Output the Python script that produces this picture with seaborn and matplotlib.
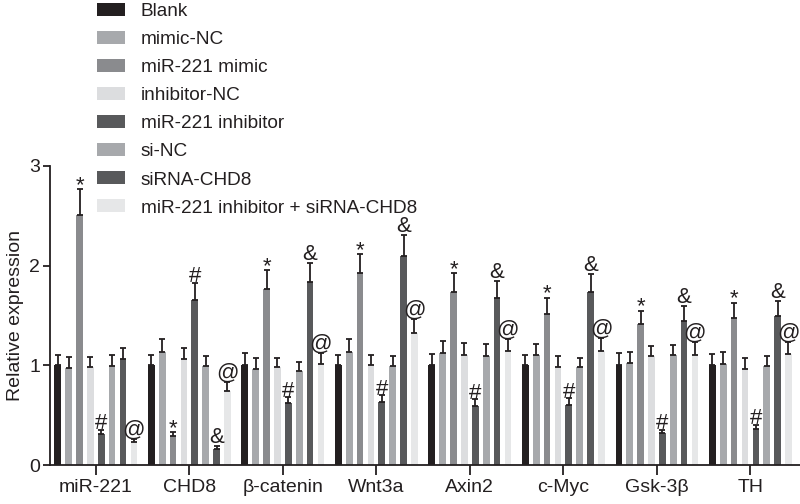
import pandas as pd
import seaborn as sns
import matplotlib.pyplot as plt
import numpy as np

genes = ["miR-221", "CHD8", "β-catenin", "Wnt3a", "Axin2", "c-Myc", "Gsk-3β", "TH"]
groups = ["Blank", "mimic-NC", "miR-221 mimic", "inhibitor-NC", "miR-221 inhibitor",
          "si-NC", "siRNA-CHD8", "miR-221 inhibitor + siRNA-CHD8"]
colors = ["#231f20", "#a7a9ac", "#8a8b8e", "#dcdddf", "#58595b", "#a7a9ac", "#58595b", "#e6e7e8"]

# means per group (one value per gene)
blank = [1.00, 1.00, 1.00, 1.00, 1.00, 1.00, 1.00, 1.00]
mimic_nc = [0.97, 1.13, 0.96, 1.13, 1.12, 1.10, 1.02, 1.01]
mimic = [2.51, 0.29, 1.77, 1.93, 1.74, 1.52, 1.41, 1.47]
inhibitor_nc = [0.98, 1.06, 0.98, 1.00, 1.10, 0.98, 1.09, 0.96]
inhibitor = [0.31, 1.66, 0.62, 0.63, 0.59, 0.60, 0.32, 0.36]
si_nc = [0.99, 0.99, 0.94, 0.99, 1.09, 0.98, 1.10, 0.99]
si_chd8 = [1.06, 0.16, 1.84, 2.10, 1.68, 1.74, 1.44, 1.50]
combo = [0.23, 0.74, 1.01, 1.32, 1.14, 1.14, 1.10, 1.11]

# upper error bars
blank_err = [0.10, 0.10, 0.12, 0.10, 0.11, 0.10, 0.12, 0.11]
mimic_nc_err = [0.11, 0.13, 0.11, 0.13, 0.12, 0.11, 0.11, 0.12]
mimic_err = [0.26, 0.04, 0.19, 0.19, 0.19, 0.16, 0.14, 0.16]
inhibitor_nc_err = [0.10, 0.11, 0.09, 0.10, 0.12, 0.11, 0.10, 0.11]
inhibitor_err = [0.04, 0.17, 0.06, 0.07, 0.07, 0.07, 0.03, 0.04]
si_nc_err = [0.11, 0.10, 0.09, 0.10, 0.12, 0.09, 0.10, 0.10]
si_chd8_err = [0.11, 0.03, 0.19, 0.21, 0.17, 0.18, 0.16, 0.15]
combo_err = [0.03, 0.09, 0.11, 0.14, 0.12, 0.13, 0.13, 0.12]

# significance marks
mimic_mark = ["*"] * 8
inhibitor_mark = ["#"] * 8
si_chd8_mark = ["", "&", "&", "&", "&", "&", "&", "&"]
combo_mark = ["@"] * 8

means = [blank, mimic_nc, mimic, inhibitor_nc, inhibitor, si_nc, si_chd8, combo]
errs = [blank_err, mimic_nc_err, mimic_err, inhibitor_nc_err, inhibitor_err,
        si_nc_err, si_chd8_err, combo_err]
marks = [None, None, mimic_mark, None, inhibitor_mark, None, si_chd8_mark, combo_mark]

rows = []
for g, vals in zip(groups, means):
    for gene, v in zip(genes, vals):
        rows.append({"gene": gene, "group": g, "value": v})
df = pd.DataFrame(rows)

sns.set_style("ticks")
plt.rcParams["font.family"] = ["Liberation Sans", "DejaVu Sans"]
ink = "#231f20"

fig = plt.figure(figsize=(8, 5.04), dpi=100)
ax = fig.add_axes([50 / 800, 39 / 504, 750 / 800, 299 / 504])

sns.barplot(data=df, x="gene", y="value", hue="group", hue_order=groups, order=genes,
            palette=colors, saturation=1, errorbar=None, width=0.93, gap=0.38,
            linewidth=0, ax=ax)

bar_sets = list(ax.containers)
# symbol -> (fontsize, vertical offset in points)
sym_style = {"*": (16, -1.5), "#": (16, 0.5), "&": (16, 2), "@": (16, 2.5)}
for i, cont in enumerate(bar_sets):
    xs = np.array([b.get_x() + b.get_width() / 2 for b in cont])
    hs = np.array([b.get_height() for b in cont])
    e = np.array(errs[i])
    ax.errorbar(xs, hs, yerr=[np.zeros_like(e), e], fmt="none", ecolor=ink,
                elinewidth=1.3, capsize=2, capthick=1.3, zorder=3)
    if marks[i] is not None:
        for x, h, ee, m in zip(xs, hs, e, marks[i]):
            if not m:
                continue
            fs, off = sym_style[m]
            ax.annotate(m, (x, h + ee), xytext=(0, off), textcoords="offset points",
                        ha="center", va="baseline", fontsize=fs, color=ink,
                        annotation_clip=False)

ax.set_ylim(0, 3)
ax.set_xlim(-0.49, 7.53)
ax.set_yticks([0, 1, 2, 3])
ax.set_xlabel("")
ax.set_ylabel("Relative expression", fontsize=14, color=ink, labelpad=4)
ax.tick_params(axis="both", labelsize=14, colors=ink, width=1.3)
ax.tick_params(axis="x", length=7, pad=3)
ax.tick_params(axis="y", length=5, pad=2)
for s in ["left", "bottom"]:
    ax.spines[s].set_linewidth(1.3)
    ax.spines[s].set_color(ink)
sns.despine(ax=ax)

handles, labels = ax.get_legend_handles_labels()
ax.get_legend().remove()
fig.legend(handles, labels, loc="upper left", bbox_to_anchor=(97 / 800, 1 - 3 / 504),
           bbox_transform=fig.transFigure, frameon=False, fontsize=13.7,
           handlelength=1.47, handleheight=0.68, handletextpad=0.84,
           labelspacing=0.57, borderpad=0, borderaxespad=0, labelcolor=ink)

fig.savefig("out.png", dpi=100)
